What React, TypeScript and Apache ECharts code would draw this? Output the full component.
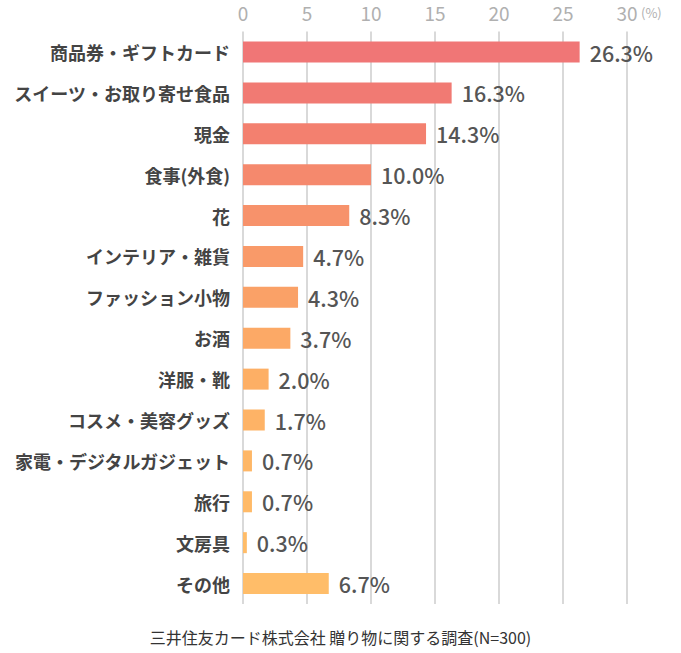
import React, { useEffect, useRef } from "react";
import * as echarts from "echarts";

const categories = [
  "商品券・ギフトカード",
  "スイーツ・お取り寄せ食品",
  "現金",
  "食事(外食)",
  "花",
  "インテリア・雑貨",
  "ファッション小物",
  "お酒",
  "洋服・靴",
  "コスメ・美容グッズ",
  "家電・デジタルガジェット",
  "旅行",
  "文房具",
  "その他",
];
const values = [26.3, 16.3, 14.3, 10.0, 8.3, 4.7, 4.3, 3.7, 2.0, 1.7, 0.7, 0.7, 0.3, 6.7];
const barColors = [
  "#F07676", "#F17A73", "#F3806F", "#F5896D", "#F7926B", "#F99A69", "#FAA167",
  "#FCA966", "#FDAF65", "#FEB366", "#FEB767", "#FFBA68", "#FFBC68", "#FFBD69",
];
const tickValues = [0, 5, 10, 15, 20, 25, 30];
const footer = "三井住友カード株式会社 贈り物に関する調査(N=300)";

const FONT = "'Noto Sans CJK JP', 'Noto Sans', sans-serif";

export default function App() {
  const ref = useRef<HTMLDivElement>(null);
  useEffect(() => {
    if (!ref.current) return;
    const chart = echarts.init(ref.current, null, { renderer: "svg" });
    chart.setOption({
      animation: false,
      backgroundColor: "#fff",
      grid: { left: 243, right: 54, top: 31.6, bottom: 49 },
      xAxis: {
        type: "value",
        position: "top",
        min: tickValues[0],
        max: tickValues[tickValues.length - 1],
        interval: 5,
        axisLine: { show: false },
        axisTick: { show: false },
        axisLabel: {
          color: "#b0b0b0",
          fontSize: 19,
          fontFamily: FONT,
          margin: 10,
        },
        splitLine: { show: true, lineStyle: { color: "#d9d9d9", width: 2 } },
      },
      yAxis: {
        type: "category",
        inverse: true,
        data: categories,
        axisLine: { show: false },
        axisTick: { show: false },
        axisLabel: {
          color: "#444",
          fontSize: 18,
          fontWeight: "bold",
          fontFamily: FONT,
          margin: 13,
        },
      },
      series: [
        {
          type: "bar",
          barWidth: 21,
          data: values.map((v, i) => ({
            value: v,
            itemStyle: { color: barColors[i] },
          })),
          label: {
            show: true,
            position: "right",
            distance: 10,
            formatter: (p: any) => p.value.toFixed(1) + "%",
            color: "#555",
            fontSize: 21.5,
            fontWeight: 500,
            fontFamily: FONT,
          },
        },
      ],
      graphic: [
        {
          type: "text",
          left: 641,
          top: 6,
          style: { text: "(%)", fill: "#b0b0b0", fontSize: 13, fontFamily: FONT },
        },
        {
          type: "text",
          left: "center",
          top: 629,
          style: { text: footer, fill: "#333", fontSize: 16, fontFamily: FONT },
        },
      ],
    });
    return () => chart.dispose();
  }, []);
  return <div ref={ref} style={{ width: 681, height: 653, position: "absolute", left: 0, top: 0 }} />;
}
